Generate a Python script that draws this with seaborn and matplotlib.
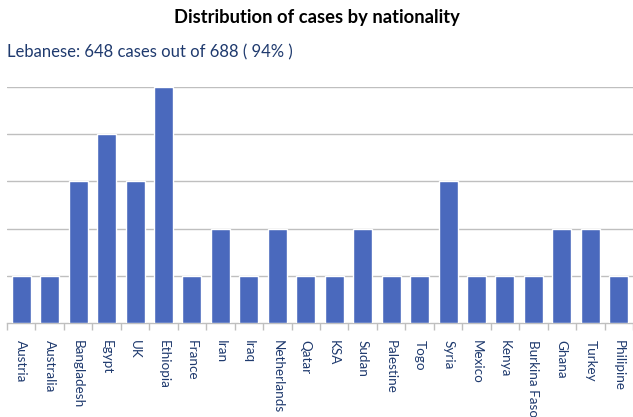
import numpy as np
import pandas as pd
import seaborn as sns
import matplotlib.pyplot as plt
from matplotlib.ticker import FixedLocator

countries = ["Austria", "Australia", "Bangladesh", "Egypt", "UK", "Ethiopia", "France",
             "Iran", "Iraq", "Netherlands", "Qatar", "KSA", "Sudan", "Palestine", "Togo",
             "Syria", "Mexico", "Kenya", "Burkina Faso", "Ghana", "Turkey", "Philipine"]
cases = [1, 1, 3, 4, 3, 5, 1, 2, 1, 2, 1, 1, 2, 1, 1, 3, 1, 1, 1, 2, 2, 1]

df = pd.DataFrame({"country": countries, "cases": cases})

sns.set_theme(style="white")
plt.rcParams['font.family'] = ['Lato', 'DejaVu Sans']

fig = plt.figure(figsize=(6.33, 4.17), dpi=100)
ax = fig.add_axes([7 / 633, 1 - 323 / 417, 626 / 633, (323 - 87) / 417])

sns.barplot(data=df, x="country", y="cases", color="#4A69BD", saturation=1,
            width=0.67, ax=ax, zorder=3)

ax.set_ylim(0, 5)
ax.set_xlim(-0.5, len(countries) - 0.5)
ax.set_yticks([1, 2, 3, 4, 5])
ax.yaxis.grid(True, color="#BFBFBF", linewidth=1)
ax.set_axisbelow(True)
ax.tick_params(axis="y", left=False, labelleft=False)
ax.set_xlabel("")
ax.set_ylabel("")
for s in ["top", "right", "left"]:
    ax.spines[s].set_visible(False)
ax.spines["bottom"].set_color("#BFBFBF")
ax.spines["bottom"].set_linewidth(1)

ax.tick_params(axis="x", which="major", length=0, pad=12, labelsize=9.7,
               labelcolor="#1F3A6E", labelrotation=270)
for lbl in ax.get_xticklabels():
    lbl.set_verticalalignment("top")
    lbl.set_horizontalalignment("center")
ax.xaxis.set_minor_locator(FixedLocator(np.arange(-0.5, len(countries), 1.0)))
ax.tick_params(axis="x", which="minor", bottom=True, length=5, color="#BFBFBF", width=1)

fig.text(0.5, 1 - 18 / 417, "Distribution of cases by nationality", ha="center", va="center",
         fontsize=13.2, fontweight="bold", color="black")
fig.text(7 / 633, 1 - 52 / 417, "Lebanese: 648 cases out of 688 ( 94% )", ha="left",
         va="center", fontsize=12, color="#1F3A6E")

fig.savefig("out.png", dpi=100)
